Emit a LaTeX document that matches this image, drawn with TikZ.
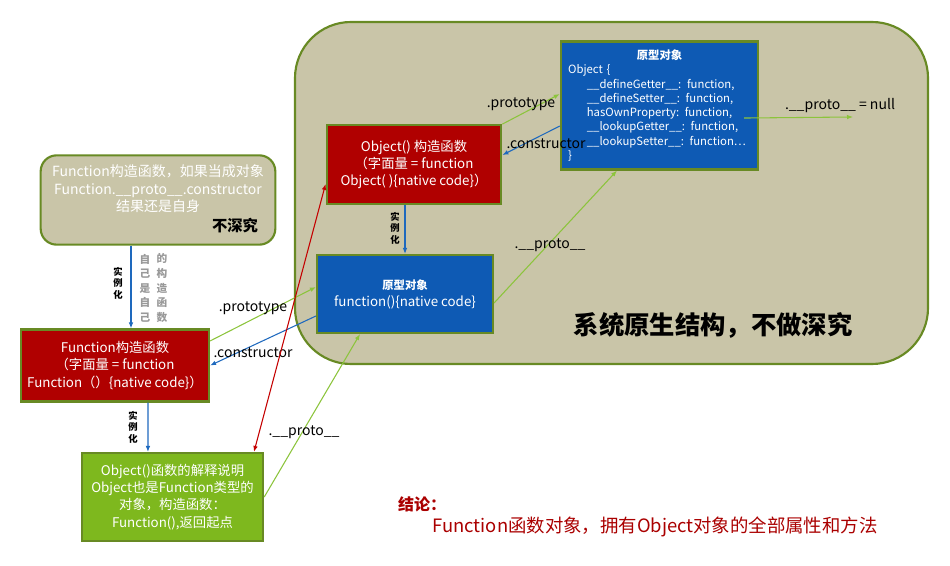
\documentclass[tikz,border=0pt]{standalone}
\usepackage{fontspec}
\setmainfont{Noto Sans CJK SC}
\usetikzlibrary{arrows.meta}
\definecolor{bgtan}{RGB}{201,197,168}
\definecolor{edgegreen}{RGB}{104,138,36}
\definecolor{boxred}{RGB}{176,0,0}
\definecolor{boxblue}{RGB}{14,90,180}
\definecolor{boxgreen}{RGB}{126,184,30}
\definecolor{lnblue}{RGB}{30,105,190}
\definecolor{lngreen}{RGB}{140,196,60}
\definecolor{lnred}{RGB}{196,0,0}
\definecolor{txtred}{RGB}{170,0,0}
\begin{document}
\begin{tikzpicture}[x=0.75pt,y=-0.75pt,
    box/.style={draw=edgegreen,line width=1.6pt,text=white,align=center,inner sep=0pt,
      font=\fontsize{10}{12.8}\selectfont},
    redbox/.style={box,fill=boxred},
    bluebox/.style={box,fill=boxblue},
    greenbox/.style={box,fill=boxgreen},
    tanbox/.style={box,fill=bgtan,rounded corners=12pt},
    lnk/.style={line width=0.8pt,-{Latex[length=4.5pt,width=3.5pt]}},
    lbl/.style={font=\fontsize{10.5}{12}\selectfont,inner sep=0pt},
    inst/.style={font=\fontsize{7}{8.6}\selectfont\bfseries,align=center,inner sep=0pt}]
  \useasboundingbox (0,0) rectangle (950,566);

  % native part
  \draw[fill=bgtan,draw=edgegreen,line width=1.6pt,rounded corners=42pt]
    (295,22) rectangle (928,364);
  \node[font=\fontsize{19}{22}\selectfont\bfseries,inner sep=0pt] (native) at (713,325)
    {系统原生结构，不做深究};

  % boxes
  \node[tanbox,minimum width=176pt,minimum height=67pt] (fnnote) at (158,200) {};
  \node[text=white,align=center,inner sep=0pt,font=\fontsize{10.5}{13}\selectfont] (fnnotetxt) at (158,189)
    {Function构造函数，如果当成对象\\Function.\_\_proto\_\_.constructor\\结果还是自身};
  \node[font=\fontsize{11.5}{13}\selectfont\bfseries,inner sep=0pt] (nodeep) at (235,226) {不深究};

  \node[redbox,minimum width=141pt,minimum height=54pt] (fnctor) at (115,365.5)
    {Function构造函数\\（字面量 = function\\Function（）\{native code\}）};
  \node[greenbox,minimum width=136pt,minimum height=66pt,font=\fontsize{10}{13}\selectfont] (objexpl) at (172.5,497)
    {Object()函数的解释说明\\Object也是Function类型的\\对象，构造函数：\\Function(),返回起点};
  \node[redbox,minimum width=131pt,minimum height=59pt] (objctor) at (414,164.5)
    {Object() 构造函数\\（字面量 = function\\Object( )\{native code\}）};
  \node[bluebox,minimum width=132pt,minimum height=58.5pt] (fnproto) at (405,294)
    {{\fontsize{8.5}{10}\selectfont\bfseries 原型对象}\\function()\{native code\}};
  \node[bluebox,minimum width=148pt,minimum height=96pt,text width=137pt,inner xsep=5pt,align=left,
    font=\fontsize{8.5}{10.7}\selectfont] (objproto) at (659.5,105.5)
    {\centering{\bfseries 原型对象}\par\raggedright
     Object \{\par
     \hspace*{14pt}\_\_defineGetter\_\_: function,\par
     \hspace*{14pt}\_\_defineSetter\_\_: function,\par
     \hspace*{14pt}hasOwnProperty: function,\par
     \hspace*{14pt}\_\_lookupGetter\_\_: function,\par
     \hspace*{14pt}\_\_lookupSetter\_\_: function…\par
     \}};

  % instantiation
  \draw[lnk,lnblue] ([xshift=-20.25pt]fnnote.south) -- ([xshift=12pt]fnctor.north);
  \node[inst] (insta) at (118,283) {实\\例\\化};
  \node[inst,text=gray!80,font=\fontsize{8}{10.9}\selectfont\bfseries] (selfa) at (145,288) {自\\己\\是\\自\\己};
  \node[inst,text=gray!80,font=\fontsize{8}{10.9}\selectfont\bfseries] (selfb) at (162,288) {的\\构\\造\\函\\数};
  \draw[lnk,lnblue] ([xshift=24.75pt]fnctor.south) -- ([xshift=-18.4pt]objexpl.north);
  \node[inst] (instb) at (133,427) {实\\例\\化};
  \draw[lnk,lnblue] ([xshift=-6.75pt]objctor.south) -- (fnproto.north);
  \node[inst] (instc) at (395,228) {实\\例\\化};

  % Function side
  \draw[lnk,lngreen] ([yshift=18.4pt]fnctor.east) -- ([yshift=5.25pt]fnproto.west);
  \node[lbl] (fnprot) at (253,308) {.prototype};
  \draw[lnk,lnblue] ([yshift=-16.5pt]fnproto.west) -- (fnctor.east);
  \node[lbl] (fnconst) at (253,353) {.constructor};
  \draw[lnk,lnred,{Latex[length=4.5pt,width=3.5pt]}-{Latex[length=4.5pt,width=3.5pt]}]
    ([yshift=-14.6pt]objctor.west) -- ([xshift=61.1pt]objexpl.north);
  \draw[lnk,lngreen] (objexpl.east) -- ([xshift=-33.75pt]fnproto.south);
  \node[lbl] (explproto) at (304,432) {.\_\_proto\_\_};

  % Object side
  \draw[lnk,lngreen] (objctor.north east) -- ([yshift=8.6pt]objproto.west);
  \node[lbl] (objprot) at (521,104) {.prototype};
  \draw[lnk,lnblue] ([yshift=-15.4pt]objproto.west) -- ([yshift=7.1pt]objctor.east);
  \node[lbl] (objconst) at (546,144) {.constructor};
  \draw[lnk,lngreen] ([yshift=-6.75pt]fnproto.east) -- ([xshift=-31.9pt]objproto.south);
  \node[lbl] (fnprotoproto) at (550,245) {.\_\_proto\_\_};
  \coordinate (nullpt) at (853,117);
  \draw[lnk,lngreen] ([xshift=63.4pt,yshift=-9.4pt]objproto.center) -- (nullpt);
  \node[lbl] (nullproto) at (840,106) {.\_\_proto\_\_ = null};

  % conclusion
  \node[font=\fontsize{12}{14}\selectfont\bfseries,text=txtred,inner sep=0pt] (concl) at (422,504) {结论：};
  \node[font=\fontsize{13.8}{16}\selectfont,text=txtred,inner sep=0pt] (concltxt) at (655,527)
    {Function函数对象，拥有Object对象的全部属性和方法};
\end{tikzpicture}
\end{document}
